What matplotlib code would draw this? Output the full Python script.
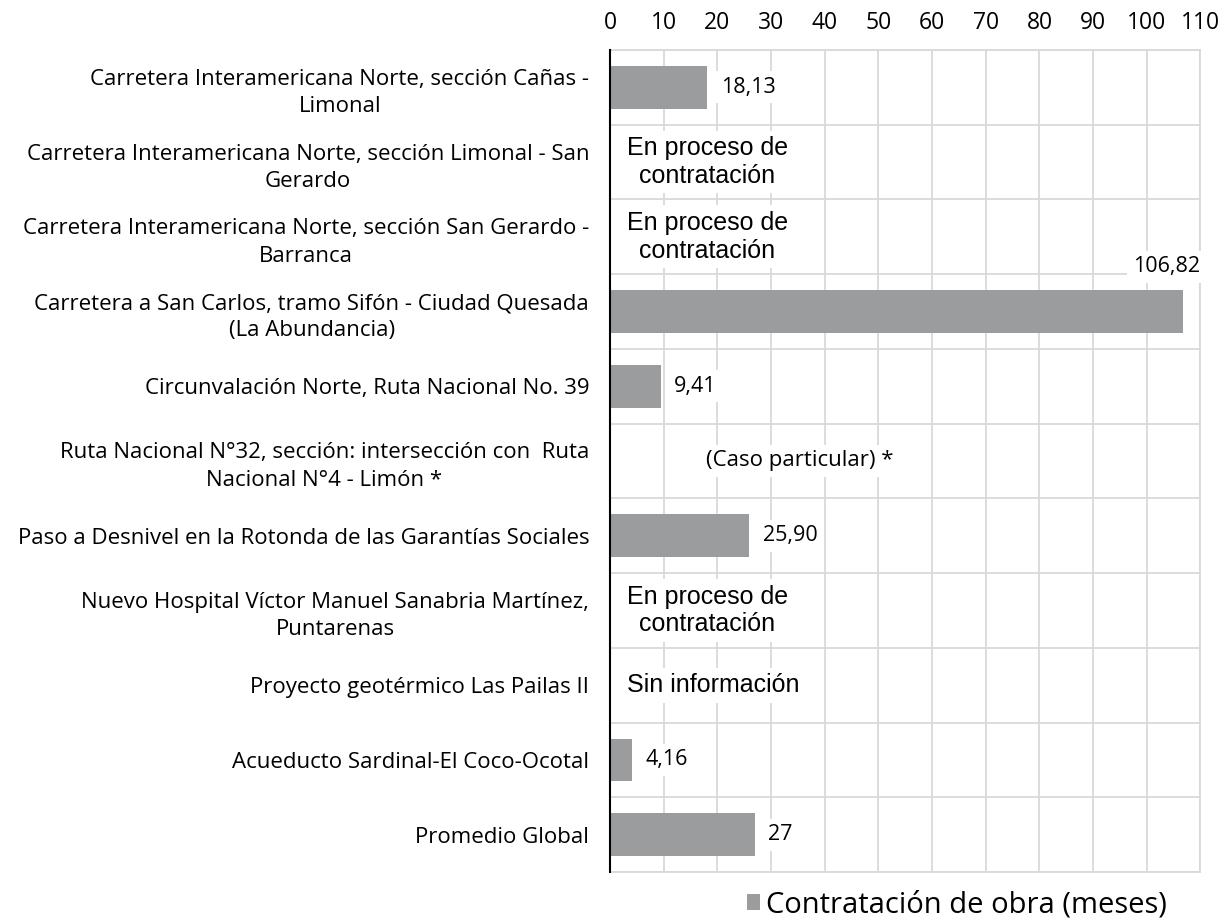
import matplotlib.pyplot as plt
import numpy as np

# categories, top to bottom
proyectos = [
    'Carretera Interamericana Norte, sección Cañas -\nLimonal',
    'Carretera Interamericana Norte, sección Limonal - San\nGerardo',
    'Carretera Interamericana Norte, sección San Gerardo -\nBarranca',
    'Carretera a San Carlos, tramo Sifón - Ciudad Quesada\n(La Abundancia)',
    'Circunvalación Norte, Ruta Nacional No. 39',
    'Ruta Nacional N°32, sección: intersección con  Ruta\nNacional N°4 - Limón *',
    'Paso a Desnivel en la Rotonda de las Garantías Sociales',
    'Nuevo Hospital Víctor Manuel Sanabria Martínez,\nPuntarenas',
    'Proyecto geotérmico Las Pailas II',
    'Acueducto Sardinal-El Coco-Ocotal',
    'Promedio Global',
]
# None = no bar, a note is shown instead
meses = [18.13, None, None, 106.82, 9.41, None, 25.90, None, None, 4.16, 27]
etiquetas = ['18,13', None, None, '106,82', '9,41', None, '25,90', None, None, '4,16', '27']
notas = [None, 'En proceso de\ncontratación', 'En proceso de\ncontratación', None, None,
         '(Caso particular) *', None, 'En proceso de\ncontratación', 'Sin información', None, None]
ticks_x = list(range(0, 111, 10))
serie = 'Contratación de obra (meses)'

color_barra = '#9a9c9d'
color_grid = '#d9d9d9'
fuente = 'Open Sans'

fig = plt.figure(figsize=(12.3, 9.24), dpi=100)
ax = fig.add_axes([0.496, 0.0563, 0.48, 0.8896])

y = np.arange(len(proyectos))
vals = [v if v is not None else 0 for v in meses]
ax.barh(y, vals, height=0.57, color=color_barra, zorder=3, label=serie)

ax.set_ylim(len(proyectos) - 0.5, -0.5)
ax.set_xlim(0, 110)
ax.set_xticks(ticks_x)
ax.xaxis.tick_top()
ax.tick_params(axis='x', length=0, pad=11, labelsize=16.5)
for lab in ax.get_xticklabels():
    lab.set_fontfamily(fuente)

ax.set_yticks(y)
ax.set_yticklabels(proyectos, fontsize=16, fontfamily=fuente, linespacing=1.4)
ax.tick_params(axis='y', length=0, pad=15)
for lab in ax.get_yticklabels():
    lab.set_multialignment('center')

# grid: vertical at ticks, horizontal between categories
ax.set_yticks(np.arange(-0.5, len(proyectos), 1), minor=True)
ax.tick_params(axis='y', which='minor', length=0)
ax.grid(axis='x', which='major', color=color_grid, linewidth=1.3, zorder=0)
ax.grid(axis='y', which='minor', color=color_grid, linewidth=1.3, zorder=0)
ax.set_axisbelow(True)

for s in ['top', 'right', 'bottom']:
    ax.spines[s].set_color(color_grid)
    ax.spines[s].set_linewidth(1.3)
ax.spines['left'].set_color('black')
ax.spines['left'].set_linewidth(1.5)
ax.spines['left'].set_zorder(5)

caja = dict(facecolor='white', edgecolor='none', pad=4)
for i, (v, t) in enumerate(zip(meses, etiquetas)):
    if v is None:
        continue
    if v > 100:
        ax.text(v - 3.2, i - 0.6, t, ha='center', va='center', fontsize=15.5,
                fontfamily=fuente, bbox=caja, zorder=4)
    else:
        ax.text(v + 2.5, i, t, ha='left', va='center', fontsize=15.5,
                fontfamily=fuente, bbox=caja, zorder=4)

for i, n in enumerate(notas):
    if n is None:
        continue
    if n.startswith('('):
        ax.text(35.3, i, n, ha='center', va='center', fontsize=16,
                fontfamily=fuente, bbox=caja, zorder=4)
    else:
        ax.text(3.1, i, n, ha='left', va='center', fontsize=18, multialignment='center',
                fontfamily='Liberation Sans', linespacing=1.2, bbox=caja, zorder=4)

fig.legend(loc='center', bbox_to_anchor=(0.778, 0.021), frameon=False,
           prop={'family': fuente, 'size': 21}, handlelength=0.45, handleheight=0.45,
           handletextpad=0.2)

plt.savefig('out.png', dpi=100)
